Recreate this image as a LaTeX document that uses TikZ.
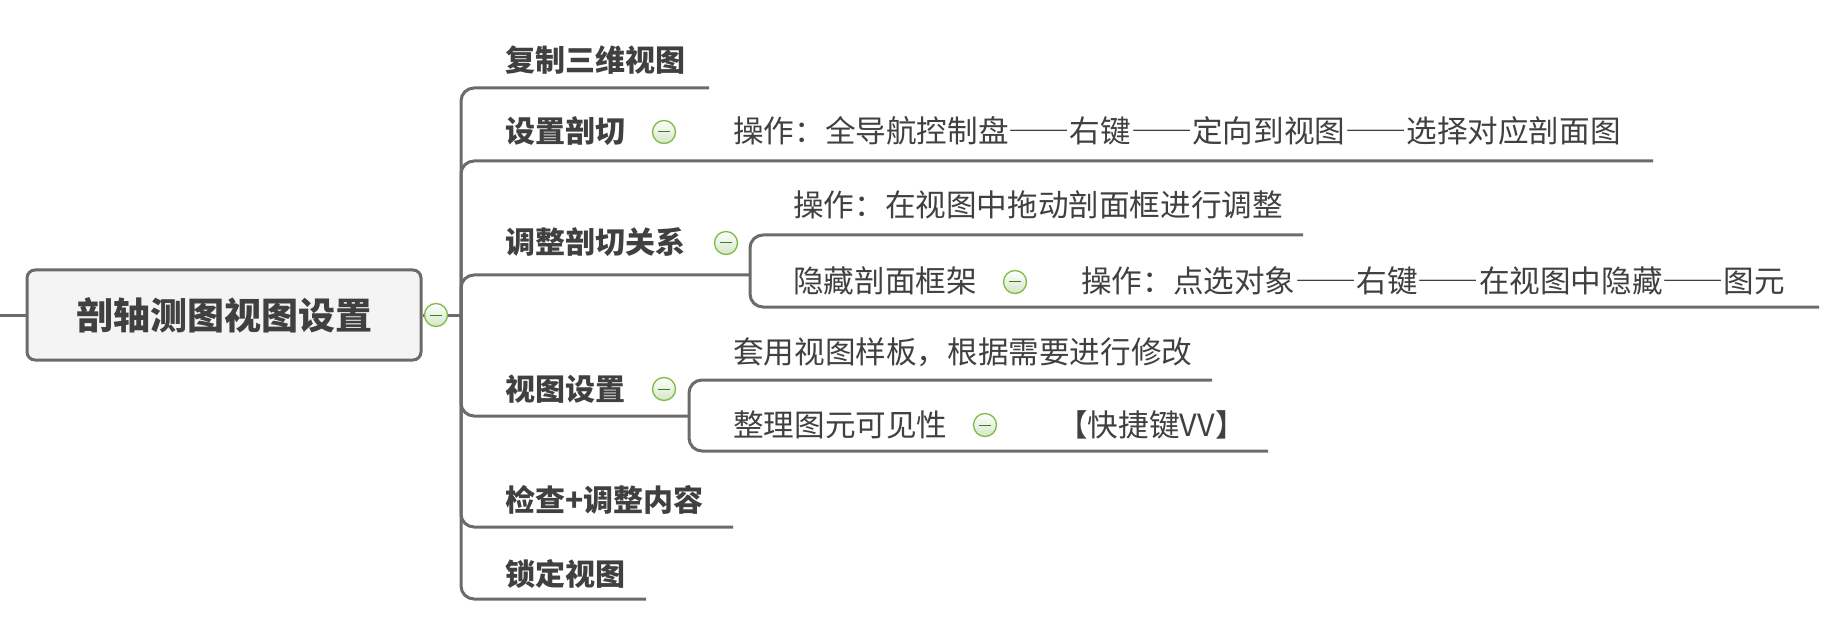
\documentclass[tikz,border=0pt]{standalone}
\usepackage{fontspec}
\setmainfont{Noto Sans CJK SC}
\newfontfamily\fwdash{Noto Sans CJK SC}[RawFeature=+fwid]
\newcommand\dd{{\fwdash ——}}
\usepackage{tikz}
\definecolor{darktext}{HTML}{404040}
\definecolor{linkgray}{HTML}{6B6B6B}
\definecolor{rootbg}{HTML}{F4F4F4}
\definecolor{togedge}{HTML}{7DBB45}
\definecolor{togfill}{HTML}{D3E6C6}
\definecolor{togminus}{HTML}{3F7D20}
\tikzset{
rootbox/.style={draw=linkgray,line width=3pt,fill=rootbg,rounded corners=8pt,minimum width=394pt,minimum height=90pt,inner sep=0pt,font=\bfseries\fontsize{37}{44}\selectfont,text=darktext},
topic/.style={font=\bfseries\fontsize{30}{36}\selectfont,text=darktext,anchor=base west,inner sep=0pt},
leaf/.style={font=\fontsize{30.6}{36}\selectfont,text=darktext,anchor=base west,inner sep=0pt},
link/.style={draw=linkgray,line width=3pt,rounded corners=13pt},
tog/.style={circle,minimum size=23pt,inner sep=0pt,draw=togedge,line width=1.3pt,top color=white,bottom color=togfill,
 path picture={\draw[togminus,line width=1pt]([xshift=-6pt]path picture bounding box.center)--([xshift=6pt]path picture bounding box.center);}}
}
\begin{document}
\begin{tikzpicture}[x=1pt,y=-1pt]
\useasboundingbox(0,0)rectangle(1832,639);
\node[rootbox](root)at(224,315){剖轴测图视图设置};
\coordinate(lft)at(0,315);
\coordinate(hub)at(461,315);
\node[topic](b1)at(505,72){复制三维视图};
\node[topic](b2)at(505,143){设置剖切};
\node[leaf](c2)at(733,143){操作：全导航控制盘\dd 右键\dd 定向到视图\dd 选择对应剖面图};
\node[topic](b3)at(505,254){调整剖切关系};
\node[leaf](c3a)at(793,217){操作：在视图中拖动剖面框进行调整};
\node[leaf](c3b)at(793,293){隐藏剖面框架};
\node[leaf](d3b)at(1081,293){操作：点选对象\dd 右键\dd 在视图中隐藏\dd 图元};
\node[topic](b4)at(505,400){视图设置};
\node[leaf](c4a)at(733,363){套用视图样板，根据需要进行修改};
\node[leaf](c4b)at(733,436){整理图元可见性};
\node[leaf](d4b)at(1057,436){【快捷键VV】};
\node[topic](b5)at(505,511){检查+调整内容};
\node[topic](b6)at(505,585){锁定视图};
\coordinate(b1e)at(709,88);
\coordinate(b2e)at(1653,161);
\coordinate(j3)at(750,275);
\coordinate(c3ae)at(1303,235);
\coordinate(c3be)at(1819,307);
\coordinate(j4)at(689,416);
\coordinate(c4ae)at(1212,380);
\coordinate(c4be)at(1268,451);
\coordinate(b5e)at(733,527);
\coordinate(b6e)at(646,599);
\draw[link](lft)--(root.west);
\draw[link](root.east)--(hub);
\draw[link](hub)|-(b1e);
\draw[link](hub)|-(b2e);
\draw[link](hub)|-(j3);
\draw[link](j3)|-(c3ae);
\draw[link](j3)|-(c3be);
\draw[link](hub)|-(j4);
\draw[link](j4)|-(c4ae);
\draw[link](j4)|-(c4be);
\draw[link](hub)|-(b5e);
\draw[link](hub)|-(b6e);
\node[tog](t0)at(436,315){};
\node[tog](t2)at(664,132){};
\node[tog](t3)at(726,243){};
\node[tog](t3b)at(1015,282){};
\node[tog](t4)at(664,389){};
\node[tog](t4b)at(985,425){};
\end{tikzpicture}
\end{document}
